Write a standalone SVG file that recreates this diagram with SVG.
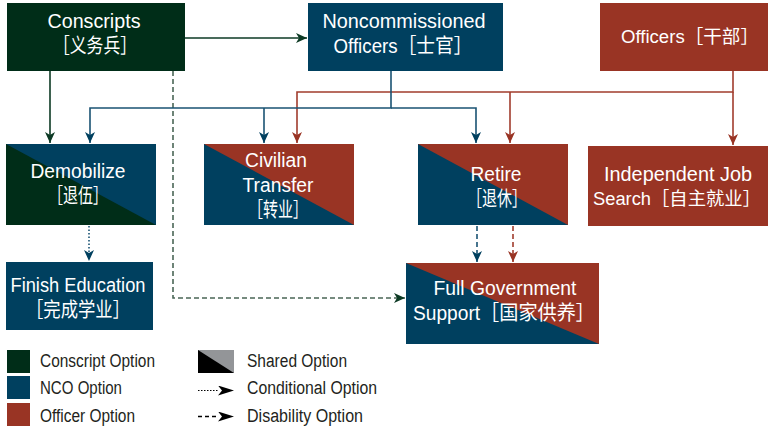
<svg xmlns="http://www.w3.org/2000/svg" width="768" height="431" viewBox="0 0 768 431">
<style>
.t{font-family:"Liberation Sans Narrow","Liberation Sans","Noto Sans CJK SC",sans-serif;font-size:20px;fill:#ffffff;text-anchor:middle}
.l{font-family:"Liberation Sans Narrow","Liberation Sans",sans-serif;font-size:18px;fill:#231f20}
.g{fill:#002d18}.b{fill:#00405f}.r{fill:#993424}
.cg{stroke:#0d3a24;stroke-width:1.6;fill:none}
.cb{stroke:#1a5373;stroke-width:1.6;fill:none}
.cr{stroke:#a13c2d;stroke-width:1.6;fill:none}
</style>
<defs>
<marker id="ag" markerUnits="userSpaceOnUse" markerWidth="12" markerHeight="11" refX="11" refY="5" orient="auto"><path d="M0,0 L11,5 L0,10 L3,5 Z" fill="#0d3a24"/></marker>
<marker id="ab" markerUnits="userSpaceOnUse" markerWidth="12" markerHeight="11" refX="11" refY="5" orient="auto"><path d="M0,0 L11,5 L0,10 L3,5 Z" fill="#00405f"/></marker>
<marker id="ar" markerUnits="userSpaceOnUse" markerWidth="12" markerHeight="11" refX="11" refY="5" orient="auto"><path d="M0,0 L11,5 L0,10 L3,5 Z" fill="#993424"/></marker>
<marker id="ak" markerUnits="userSpaceOnUse" markerWidth="17" markerHeight="11" refX="16" refY="5" orient="auto"><path d="M0,0 L16,5 L0,10 L4,5 Z" fill="#000"/></marker>
</defs>

<g id="connectors">
<path class="cg" d="M185,38 H307" marker-end="url(#ag)"/>
<path class="cg" d="M50,71 V143" marker-end="url(#ag)"/>
<path class="cg" d="M173,71 V298 H405" stroke-dasharray="5,3" marker-end="url(#ag)" style="stroke:#4a6656"/>
<path class="cr" d="M733,71 V92 H297 V143" marker-end="url(#ar)"/>
<path class="cr" d="M510,92 V143" marker-end="url(#ar)"/>
<path class="cr" d="M733,92 V145" marker-end="url(#ar)"/>
<path class="cb" d="M391,71 V108 H90 V143" marker-end="url(#ab)"/>
<path class="cb" d="M391,108 H476 V143" marker-end="url(#ab)"/>
<path class="cb" d="M264,108 V143" marker-end="url(#ab)"/>
<path class="cb" d="M89,226 V261" stroke-dasharray="1.5,2" marker-end="url(#ab)"/>
<path class="cb" d="M477,226 V262" stroke-dasharray="5,3" marker-end="url(#ab)"/>
<path class="cr" d="M513,226 V262" stroke-dasharray="5,3" marker-end="url(#ar)"/>
</g>

<g id="conscripts">
<rect class="g" x="7" y="3" width="178" height="68"/>
<text class="t" x="94" y="28" textLength="93" lengthAdjust="spacingAndGlyphs">Conscripts</text>
<text class="t" x="95" y="53" textLength="84" lengthAdjust="spacingAndGlyphs">［义务兵］</text>
</g>

<g id="nco">
<rect class="b" x="308" y="3" width="195" height="68"/>
<text class="t" x="404" y="28" textLength="163" lengthAdjust="spacingAndGlyphs">Noncommissioned</text>
<text class="t" x="403" y="53" textLength="139" lengthAdjust="spacingAndGlyphs">Officers［士官］</text>
</g>

<g id="officers">
<rect class="r" x="600" y="3" width="168" height="68"/>
<text class="t" x="690" y="43" textLength="138" lengthAdjust="spacingAndGlyphs" style="font-size:18px">Officers［干部］</text>
</g>

<g id="demobilize">
<rect class="g" x="6" y="144" width="150" height="81"/>
<polygon class="b" points="6,144 156,144 156,225"/>
<text class="t" x="78" y="178" textLength="95" lengthAdjust="spacingAndGlyphs">Demobilize</text>
<text class="t" x="78" y="203" textLength="60" lengthAdjust="spacingAndGlyphs">［退伍］</text>
</g>

<g id="civilian">
<rect class="b" x="204" y="144" width="150" height="81"/>
<polygon class="r" points="204,144 354,144 354,225"/>
<text class="t" x="276" y="167" textLength="62" lengthAdjust="spacingAndGlyphs">Civilian</text>
<text class="t" x="278" y="192" textLength="71" lengthAdjust="spacingAndGlyphs">Transfer</text>
<text class="t" x="278" y="217" textLength="60" lengthAdjust="spacingAndGlyphs">［转业］</text>
</g>

<g id="retire">
<rect class="b" x="418" y="144" width="150" height="81"/>
<polygon class="r" points="418,144 568,144 568,225"/>
<text class="t" x="496" y="181" textLength="51" lengthAdjust="spacingAndGlyphs">Retire</text>
<text class="t" x="497" y="206" textLength="60" lengthAdjust="spacingAndGlyphs">［退休］</text>
</g>

<g id="independent">
<rect class="r" x="588" y="146" width="180" height="80"/>
<text class="t" x="678" y="181" textLength="148" lengthAdjust="spacingAndGlyphs">Independent Job</text>
<text class="t" x="677" y="205" textLength="168" lengthAdjust="spacingAndGlyphs" style="font-size:18px">Search［自主就业］</text>
</g>

<g id="finish">
<rect class="b" x="6" y="262" width="147" height="68"/>
<text class="t" x="78" y="292" textLength="135" lengthAdjust="spacingAndGlyphs">Finish Education</text>
<text class="t" x="78" y="317" textLength="104" lengthAdjust="spacingAndGlyphs">［完成学业］</text>
</g>

<g id="fullgov">
<rect class="b" x="406" y="263" width="193" height="81"/>
<polygon class="r" points="406,263 599,263 599,344"/>
<text class="t" x="505" y="295" textLength="143" lengthAdjust="spacingAndGlyphs">Full Government</text>
<text class="t" x="504" y="320" textLength="182" lengthAdjust="spacingAndGlyphs">Support［国家供养］</text>
</g>

<g id="legend">
<rect class="g" x="7" y="350" width="23" height="23"/>
<rect class="b" x="7" y="376" width="23" height="23"/>
<rect class="r" x="7" y="403" width="23" height="23"/>
<text class="l" x="40" y="367" textLength="115" lengthAdjust="spacingAndGlyphs">Conscript Option</text>
<text class="l" x="40" y="394" textLength="82" lengthAdjust="spacingAndGlyphs">NCO Option</text>
<text class="l" x="40" y="422" textLength="95" lengthAdjust="spacingAndGlyphs">Officer Option</text>
<rect x="198" y="350" width="36" height="23" fill="#000"/>
<polygon points="198,350 234,350 234,373" fill="#939598"/>
<path d="M198,390.5 H218" stroke="#000" stroke-width="1.2" stroke-dasharray="1.5,1.5" fill="none"/>
<path d="M218,390.5 H234" stroke="none" fill="none" marker-end="url(#ak)"/>
<path d="M198,416.5 H218" stroke="#000" stroke-width="1.5" stroke-dasharray="4,3" fill="none"/>
<path d="M218,416.5 H234" stroke="none" fill="none" marker-end="url(#ak)"/>
<text class="l" x="247" y="367" textLength="100" lengthAdjust="spacingAndGlyphs">Shared Option</text>
<text class="l" x="247" y="394" textLength="130" lengthAdjust="spacingAndGlyphs">Conditional Option</text>
<text class="l" x="247" y="422" textLength="116" lengthAdjust="spacingAndGlyphs">Disability Option</text>
</g>
</svg>
